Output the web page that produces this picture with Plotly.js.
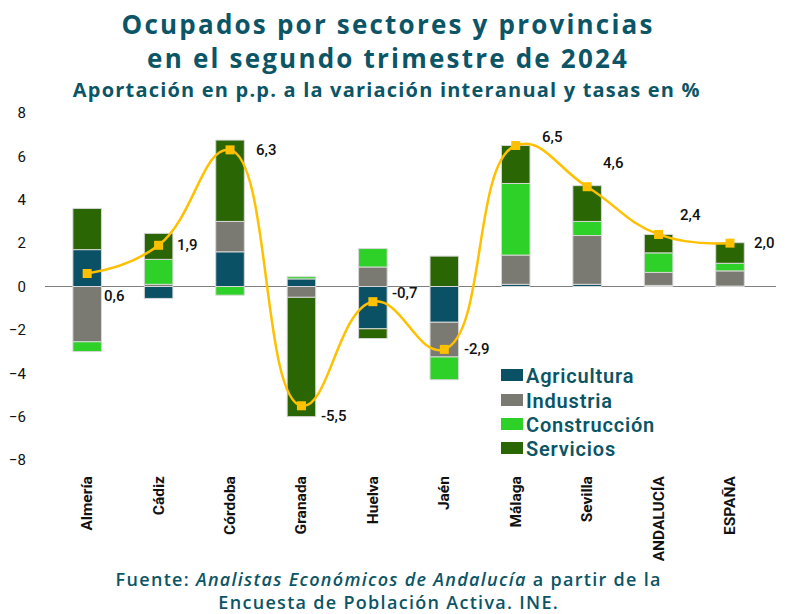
<!DOCTYPE html>
<html>
<head>
<meta charset="utf-8">
<script src="https://cdn.plot.ly/plotly-3.0.1.min.js"></script>
<style>html,body{margin:0;padding:0;background:#fff;}#chart{width:786px;height:614px;}</style>
</head>
<body>
<div id="chart"></div>
<script>
const categories = ["Almería","Cádiz","Córdoba","Granada","Huelva","Jaén","Málaga","Sevilla","ANDALUCÍA","ESPAÑA"];
const seriesNames  = ["Agricultura", "Industria", "Construcción", "Servicios"];
const agricultura  = [1.7, -0.55, 1.6, 0.35, -1.95, -1.65, 0.1, 0.1, 0.05, 0.02];
const industria    = [-2.55, 0.1, 1.4, -0.5, 0.9, -1.6, 1.35, 2.25, 0.6, 0.7];
const construccion = [-0.45, 1.15, -0.4, 0.1, 0.85, -1.05, 3.3, 0.65, 0.9, 0.35];
const servicios    = [1.9, 1.2, 3.75, -5.5, -0.45, 1.4, 1.75, 1.65, 0.85, 0.95];
const totales      = [0.6, 1.9, 6.3, -5.5, -0.7, -2.9, 6.5, 4.6, 2.4, 2.0];
const yTicks = [-8, -6, -4, -2, 0, 2, 4, 6, 8];

// styling (not data)
const colors = ["#0b5166", "#7a7a72", "#2ed127", "#2b6604"];
const labelShiftX = [27, 28, 36, 33, 32, 33, 36, 26, 32, 34];
const labelShiftY = [-23, 0, 0, -10, 9, 0, 9, 24, 19, 0];

const teal = "#0b5566";
const font = "Roboto, 'Liberation Sans', sans-serif";
const tfont = "'Open Sans', Roboto, sans-serif";
const border = {color: "#d8d8d8", width: 1};

// plot area in pixels: left 45, right 776, top 113, bottom 460
const px = x => (x - 45) / 731;
const py = y => (460 - y) / 347;

const seriesValues = [agricultura, industria, construccion, servicios];
const traces = seriesValues.map((vals, i) => ({
  type: "bar", name: seriesNames[i], x: categories, y: vals,
  marker: {color: colors[i], line: border}, showlegend: false
}));
traces.push({type: "scatter", mode: "lines+markers", x: categories, y: totales, showlegend: false,
   line: {color: "#ffc000", width: 2.5, shape: "spline", smoothing: 1.3},
   marker: {symbol: "square", size: 9, color: "#ffc000"}});

const fmt = v => v.toFixed(1).replace(".", ",");
const annotations = totales.map((v, i) => ({
  x: categories[i], y: v, xref: "x", yref: "y", text: fmt(v), showarrow: false,
  xshift: labelShiftX[i], yshift: labelShiftY[i],
  font: {family: font, size: 15, color: "#111", weight: 500}
}));

const letterSpacing = {};
// titles and footer
const titleText = "Ocupados por sectores y provincias<br>en el segundo trimestre de 2024";
const subText = "Aportación en p.p. a la variación interanual y tasas en %";
const footText = "Fuente: <i>Analistas Económicos de Andalucía</i> a partir de la<br>Encuesta de Población Activa. INE.";
annotations.push(
  {xref: "paper", yref: "paper", x: px(388), y: py(40.5), xanchor: "center", yanchor: "middle",
   showarrow: false, text: titleText,
   font: {family: tfont, size: 26, color: teal, weight: 700}},
  {xref: "paper", yref: "paper", x: px(387), y: py(89.5), xanchor: "center", yanchor: "middle",
   showarrow: false, text: subText,
   font: {family: tfont, size: 20, color: teal, weight: 700}},
  {xref: "paper", yref: "paper", x: px(388), y: py(590.5), xanchor: "center", yanchor: "middle",
   showarrow: false, text: footText,
   font: {family: tfont, size: 18, color: teal, weight: 600}}
);
letterSpacing["Ocupados"] = 2.2;
letterSpacing["Aportación"] = 1.2;
letterSpacing["Fuente"] = 1.3;

// manual legend
const legendRows = [375, 400, 424, 448];
const shapes = [];
seriesNames.forEach((n, i) => {
  shapes.push({type: "rect", xref: "paper", yref: "paper",
    x0: px(501), x1: px(523), y0: py(legendRows[i] - 6), y1: py(legendRows[i] + 6),
    fillcolor: colors[i], line: {width: 0}});
  annotations.push({xref: "paper", yref: "paper", x: px(524), y: py(legendRows[i] + 0.5),
    xanchor: "left", yanchor: "middle", align: "left", showarrow: false, text: n,
    font: {family: font, size: 20, color: teal, weight: 600}});
  letterSpacing[n] = 0.8;
});

const layout = {
  width: 786, height: 614,
  margin: {l: 45, r: 10, t: 113, b: 154},
  paper_bgcolor: "#fff", plot_bgcolor: "#fff",
  barmode: "relative", bargap: 0.6,
  font: {family: font, color: "#111"},
  showlegend: false,
  xaxis: {tickangle: -90, showgrid: false, showline: false, ticks: "",
          tickfont: {family: font, size: 15.5, color: "#111", weight: 700},
          ticklabelstandoff: 12},
  yaxis: {range: [-8, 8], tickvals: yTicks, showgrid: false, showline: false, ticks: "",
          zeroline: true, zerolinecolor: "#7f7f7f", zerolinewidth: 1.5,
          tickfont: {family: font, size: 15, color: "#111"}, ticklabelstandoff: 18},
  annotations: annotations,
  shapes: shapes
};

Plotly.newPlot("chart", traces, layout, {displayModeBar: false, staticPlot: true}).then(() => {
  document.querySelectorAll("#chart .annotation-text").forEach(el => {
    const t = el.textContent;
    for (const key in letterSpacing) {
      if (t.startsWith(key)) { el.style.letterSpacing = letterSpacing[key] + "px"; break; }
    }
  });
});
</script>
</body>
</html>
